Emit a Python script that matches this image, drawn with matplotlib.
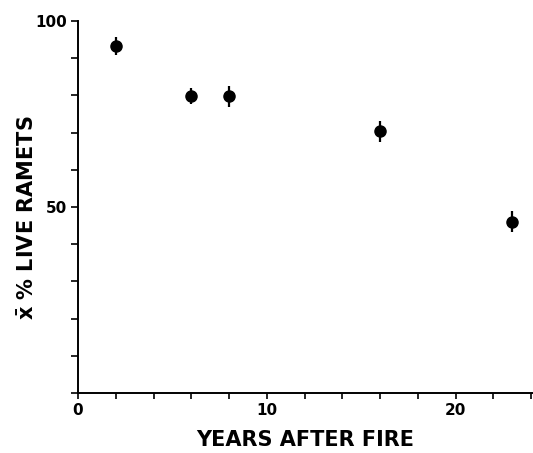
import matplotlib
matplotlib.use("Agg")
import matplotlib.pyplot as plt
from matplotlib.ticker import MultipleLocator

years = [2, 6, 8, 16, 23]
live_pct = [93.3, 79.9, 79.8, 70.4, 46.1]
err = [2.4, 2.2, 2.8, 2.8, 2.8]

plt.rcParams['font.family'] = ['DejaVu Sans']
plt.rcParams['mathtext.fontset'] = 'dejavusans'

fig = plt.figure(figsize=(5.33, 4.53), dpi=100)
ax = fig.add_axes([78/533, 1-393/453, 455/533, 372/453])

ax.errorbar(years, live_pct, yerr=err, fmt='o', color='black', ms=8,
            elinewidth=1.6, capsize=0, clip_on=False)

ax.set_xlim(0, 24.1)
ax.set_ylim(0, 100)
ax.spines['top'].set_visible(False)
ax.spines['right'].set_visible(False)
for s in ('left', 'bottom'):
    ax.spines[s].set_linewidth(1.4)

ax.xaxis.set_major_locator(MultipleLocator(10))
ax.xaxis.set_minor_locator(MultipleLocator(2))
ax.yaxis.set_minor_locator(MultipleLocator(10))
ax.set_yticks([50, 100])
ax.tick_params(which='both', direction='out', width=1.2, colors='black')
ax.tick_params(axis='y', which='both', length=5)
ax.tick_params(axis='x', which='both', length=4)
ax.tick_params(axis='both', labelsize=11, pad=3)
for lab in ax.get_xticklabels() + ax.get_yticklabels():
    lab.set_fontweight('bold')

ax.set_xlabel('YEARS AFTER FIRE', fontsize=15, fontweight='bold')
ax.xaxis.label.set_va('center')
ax.xaxis.set_label_coords(0.499, (393 - 440.5) / 372)
ax.set_ylabel(r'$\mathbf{\bar{x}}$ % LIVE RAMETS', fontsize=15,
              fontweight='bold')
ax.yaxis.label.set_va('center')
ax.yaxis.set_label_coords((27.5 - 78) / 455, (393 - 218) / 372)

fig.savefig('out.png', dpi=100)
